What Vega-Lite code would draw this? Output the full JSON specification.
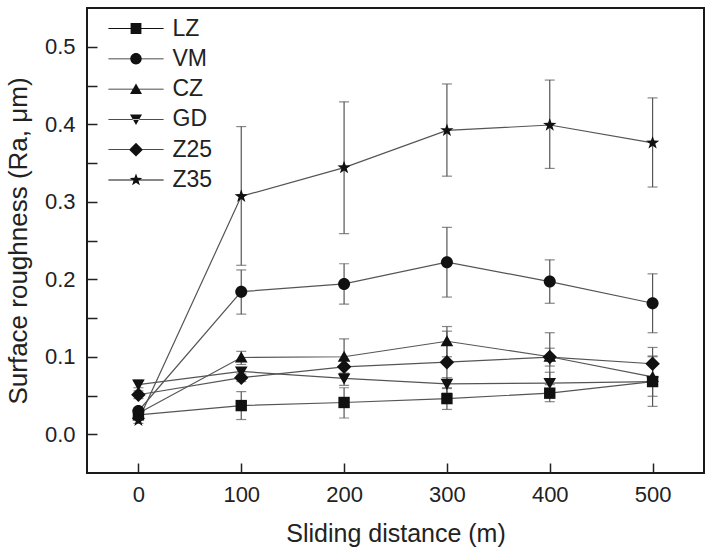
{
  "$schema": "https://vega.github.io/schema/vega-lite/v6.json",
  "width": 617,
  "height": 465,
  "autosize": "none",
  "padding": {"left": 87, "top": 8, "right": 3, "bottom": 78},
  "background": "white",
  "config": {
    "view": {"stroke": "#1a1a1a", "strokeWidth": 2},
    "font": "Liberation Sans",
    "axis": {"grid": false, "domain": false, "labelFont": "Liberation Sans", "titleFont": "Liberation Sans", "labelFontSize": 22, "titleFontSize": 25, "labelColor": "#222", "titleColor": "#222", "titleFontWeight": "normal", "tickColor": "#222", "tickWidth": 1.5}
  },
  "data": {"values": [
    {"series": "LZ", "x": 0, "y": 0.025, "lo": 0.021, "hi": 0.029},
    {"series": "LZ", "x": 100, "y": 0.037, "lo": 0.019, "hi": 0.055},
    {"series": "LZ", "x": 200, "y": 0.041, "lo": 0.021, "hi": 0.060},
    {"series": "LZ", "x": 300, "y": 0.046, "lo": 0.032, "hi": 0.060},
    {"series": "LZ", "x": 400, "y": 0.053, "lo": 0.042, "hi": 0.064},
    {"series": "LZ", "x": 500, "y": 0.068, "lo": 0.036, "hi": 0.100},
    {"series": "VM", "x": 0, "y": 0.030, "lo": 0.026, "hi": 0.034},
    {"series": "VM", "x": 100, "y": 0.184, "lo": 0.155, "hi": 0.212},
    {"series": "VM", "x": 200, "y": 0.194, "lo": 0.168, "hi": 0.220},
    {"series": "VM", "x": 300, "y": 0.222, "lo": 0.177, "hi": 0.267},
    {"series": "VM", "x": 400, "y": 0.197, "lo": 0.169, "hi": 0.225},
    {"series": "VM", "x": 500, "y": 0.169, "lo": 0.131, "hi": 0.207},
    {"series": "CZ", "x": 0, "y": 0.027, "lo": 0.023, "hi": 0.031},
    {"series": "CZ", "x": 100, "y": 0.099, "lo": 0.090, "hi": 0.107},
    {"series": "CZ", "x": 200, "y": 0.100, "lo": 0.078, "hi": 0.123},
    {"series": "CZ", "x": 300, "y": 0.120, "lo": 0.100, "hi": 0.139},
    {"series": "CZ", "x": 400, "y": 0.100, "lo": 0.070, "hi": 0.131},
    {"series": "CZ", "x": 500, "y": 0.074, "lo": 0.049, "hi": 0.101},
    {"series": "GD", "x": 0, "y": 0.064, "lo": 0.060, "hi": 0.070},
    {"series": "GD", "x": 100, "y": 0.081, "lo": 0.076, "hi": 0.086},
    {"series": "GD", "x": 200, "y": 0.072, "lo": 0.063, "hi": 0.079},
    {"series": "GD", "x": 300, "y": 0.065, "lo": 0.059, "hi": 0.073},
    {"series": "GD", "x": 400, "y": 0.066, "lo": 0.052, "hi": 0.080},
    {"series": "GD", "x": 500, "y": 0.068, "lo": 0.062, "hi": 0.074},
    {"series": "Z25", "x": 0, "y": 0.051, "lo": 0.046, "hi": 0.056},
    {"series": "Z25", "x": 100, "y": 0.073, "lo": 0.068, "hi": 0.078},
    {"series": "Z25", "x": 200, "y": 0.087, "lo": 0.078, "hi": 0.096},
    {"series": "Z25", "x": 300, "y": 0.093, "lo": 0.053, "hi": 0.133},
    {"series": "Z25", "x": 400, "y": 0.0996, "lo": 0.088, "hi": 0.111},
    {"series": "Z25", "x": 500, "y": 0.091, "lo": 0.071, "hi": 0.112},
    {"series": "Z35", "x": 0, "y": 0.018, "lo": 0.014, "hi": 0.022},
    {"series": "Z35", "x": 100, "y": 0.307, "lo": 0.218, "hi": 0.397},
    {"series": "Z35", "x": 200, "y": 0.344, "lo": 0.259, "hi": 0.429},
    {"series": "Z35", "x": 300, "y": 0.392, "lo": 0.333, "hi": 0.452},
    {"series": "Z35", "x": 400, "y": 0.399, "lo": 0.343, "hi": 0.457},
    {"series": "Z35", "x": 500, "y": 0.376, "lo": 0.319, "hi": 0.434}
  ]},
  "encoding": {
    "x": {"field": "x", "type": "quantitative", "scale": {"domain": [-50, 550], "nice": false, "zero": false},
      "axis": {"title": "Sliding distance (m)", "values": [0, 100, 200, 300, 400, 500], "tickSize": -10, "labelPadding": 21, "titlePadding": 16, "format": "d"}}
  },
  "layer": [
    {
      "mark": {"type": "rule", "color": "#555", "strokeWidth": 1.2},
      "encoding": {
        "y": {"field": "lo", "type": "quantitative", "scale": {"domain": [-0.05, 0.55], "nice": false, "zero": false},
          "axis": {"title": "Surface roughness (Ra, μm)", "titleFontSize": 26, "values": [0, 0.05, 0.1, 0.15, 0.2, 0.25, 0.3, 0.35, 0.4, 0.45, 0.5], "tickSize": -10, "labelPadding": 22, "titlePadding": 13,
            "labelExpr": "abs(round(datum.value*100)) % 10 == 0 ? format(datum.value, '.1f') : ''"}},
        "y2": {"field": "hi"}
      }
    },
    {
      "mark": {"type": "tick", "orient": "horizontal", "color": "#555", "size": 10, "thickness": 1.2},
      "encoding": {"y": {"field": "lo", "type": "quantitative"}}
    },
    {
      "mark": {"type": "tick", "orient": "horizontal", "color": "#555", "size": 10, "thickness": 1.2},
      "encoding": {"y": {"field": "hi", "type": "quantitative"}}
    },
    {
      "mark": {"type": "line", "color": "#555", "strokeWidth": 1.2},
      "encoding": {
        "y": {"field": "y", "type": "quantitative"},
        "detail": {"field": "series", "type": "nominal"}
      }
    },
    {
      "mark": {"type": "point", "filled": true, "color": "#111", "opacity": 1, "size": 160},
      "encoding": {
        "y": {"field": "y", "type": "quantitative"},
        "shape": {"field": "series", "type": "nominal", "legend": null,
          "scale": {"domain": ["LZ", "VM", "CZ", "GD", "Z25", "Z35"],
            "range": [
              "M-0.9,-0.9H0.9V0.9H-0.9Z",
              "M0.95,0A0.95,0.95,0,1,1,-0.95,0A0.95,0.95,0,1,1,0.95,0Z",
              "M0,-0.95L1,0.8L-1,0.8Z",
              "M0,0.95L1,-0.8L-1,-0.8Z",
              "M0,-1.15L1.15,0L0,1.15L-1.15,0Z",
              "M0,-1.1L0.26,-0.36L1.05,-0.34L0.42,0.14L0.65,0.89L0,0.44L-0.65,0.89L-0.42,0.14L-1.05,-0.34L-0.26,-0.36Z"
            ]}}
      }
    },
    {
      "mark": {"type": "point", "filled": true, "color": "#111", "opacity": 0, "size": 144},
      "encoding": {
        "y": {"field": "y", "type": "quantitative"},
        "shape": {"field": "series", "type": "nominal",
          "scale": {"domain": ["LZ", "VM", "CZ", "GD", "Z25", "Z35"],
            "range": [
              "M-4.6,-0.07H4.6V0.07H-4.6ZM-0.9,-0.9H0.9V0.9H-0.9Z",
              "M-4.6,-0.07H4.6V0.07H-4.6ZM0.95,0A0.95,0.95,0,1,1,-0.95,0A0.95,0.95,0,1,1,0.95,0Z",
              "M-4.6,-0.07H4.6V0.07H-4.6ZM0,-0.95L1,0.8L-1,0.8Z",
              "M-4.6,-0.07H4.6V0.07H-4.6ZM0,0.95L1,-0.8L-1,-0.8Z",
              "M-4.6,-0.07H4.6V0.07H-4.6ZM0,-1.15L1.15,0L0,1.15L-1.15,0Z",
              "M-4.6,-0.07H4.6V0.07H-4.6ZM0,-1.1L0.26,-0.36L1.05,-0.34L0.42,0.14L0.65,0.89L0,0.44L-0.65,0.89L-0.42,0.14L-1.05,-0.34L-0.26,-0.36Z"
            ]},
          "legend": {"title": null, "orient": "none", "legendX": 37.5, "legendY": 9, "labelFont": "Liberation Sans", "labelFontSize": 23, "labelColor": "#222", "labelOffset": 25, "rowPadding": 6.3, "padding": 0, "symbolSize": 144,
            "symbolFillColor": "#222", "symbolStrokeWidth": 0, "symbolOpacity": 1,
            "encode": {"symbols": {"update": {"opacity": {"value": 1}, "fill": {"value": "#222"}, "strokeWidth": {"value": 0}}}}}
        }
      }
    }
  ],
  "resolve": {"scale": {"shape": "independent"}}
}
